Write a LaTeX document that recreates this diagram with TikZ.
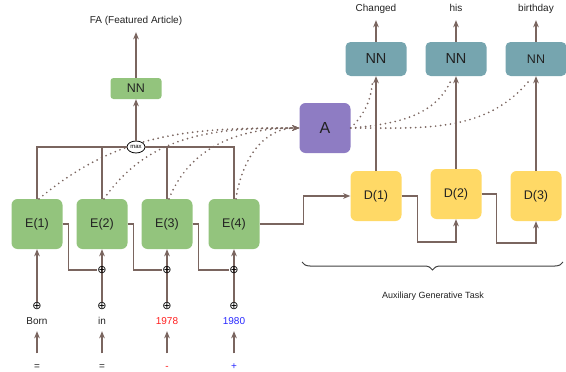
\documentclass[tikz,border=0pt]{standalone}
\usepackage{fontspec}
\setmainfont{Liberation Sans}
\newfontfamily\symfont{DejaVu Sans}
\usepackage{tikz}
\usetikzlibrary{arrows.meta}
\usetikzlibrary{shapes.geometric}
\usetikzlibrary{decorations.pathreplacing}
\usetikzlibrary{positioning}
\definecolor{wirec}{RGB}{122,101,95}
\definecolor{encgreen}{RGB}{147,196,125}
\definecolor{decyellow}{RGB}{255,217,102}
\definecolor{nnteal}{RGB}{118,165,175}
\definecolor{attpurple}{RGB}{142,124,195}
\definecolor{wordred}{RGB}{255,30,30}
\definecolor{wordblue}{RGB}{40,40,255}
\definecolor{txt}{RGB}{34,34,34}
\tikzset{wire/.style={draw=wirec,line width=1.2pt}}
\tikzset{dots/.style={draw=wirec,line width=1.9pt,line cap=round,dash pattern=on 0pt off 5pt}}
\tikzset{enc/.style={rectangle,rounded corners=6pt,fill=encgreen,minimum width=51pt,minimum height=50pt,inner sep=0pt,text=txt,font=\fontsize{12.5}{14}\selectfont}}
\tikzset{dec/.style={enc,fill=decyellow}}
\tikzset{att/.style={enc,fill=attpurple,font=\fontsize{16}{18}\selectfont}}
\tikzset{encnn/.style={rectangle,rounded corners=3pt,fill=encgreen,minimum width=51pt,minimum height=21pt,inner sep=0pt,text=txt,font=\fontsize{12.5}{14}\selectfont}}
\tikzset{decnn/.style={rectangle,rounded corners=5pt,fill=nnteal,minimum width=61pt,minimum height=34pt,inner sep=0pt,text=txt}}
\tikzset{lbl/.style={inner sep=2pt,text height=7pt,text depth=2pt,text=txt,font=\fontsize{10}{12}\selectfont}}
\tikzset{plus/.style={inner sep=0pt,text=black,font=\symfont\fontsize{11}{12}\selectfont}}
\tikzset{maxnode/.style={ellipse,draw=black,fill=white,line width=0.8pt,minimum width=18pt,minimum height=12pt,inner sep=0pt,font=\fontsize{6}{7}\selectfont}}
\tikzset{auxbrace/.style={draw=black!75,line width=1pt,decorate,decoration={brace,mirror,amplitude=8pt}}}

\begin{document}
\begin{tikzpicture}[x=1pt,y=1pt,>={Stealth[length=7pt,width=5.5pt,inset=2pt]}]
\useasboundingbox (0,0) rectangle (566,-372);

% encoder
\foreach \k/\x in {1/37,2/102,3/167,4/234}{
  \node[enc] (E\k) at (\x,-224) {E(\k)};
  \node[plus] (P\k) at (\x,-306) {⊕};
  \draw[wire,->] (P\k) -- (E\k);
}
\foreach \k/\x in {2/102,3/167,4/234}{
  \node[plus] (Q\k) at (\x,-270) {⊕};
}
\foreach \k/\j in {1/2,2/3,3/4}{
  \draw[wire] (E\k.east) -- ++(6,0) |- (Q\j);
}

% inputs
\node[lbl] (W1) at (37,-322) {Born};
\node[lbl] (W2) at (102,-322) {in};
\node[lbl,text=wordred] (W3) at (167,-322) {1978};
\node[lbl,text=wordblue] (W4) at (234,-322) {1980};
\node[lbl] (S1) at (37,-367) {=};
\node[lbl] (S2) at (102,-367) {=};
\node[lbl,text=wordred] (S3) at (167,-367) {-};
\node[lbl,text=wordblue] (S4) at (234,-367) {+};
\foreach \k in {1,...,4}{
  \draw[wire,->,shorten <=7pt,shorten >=2.5pt] (S\k) -- (W\k);
}

% attention
\node[att] (A) at (325,-128) {A};
\foreach \k/\a in {1/40,2/55,3/68,4/82}{
  \draw[dots,->] ([xshift=2pt]E\k.north) to[out=\a,in=180] (A.west);
}

% max pooling + classifier
\node[maxnode] (M) at (136,-147) {max};
\draw[wire] (E1.north) |- (M.west);
\draw[wire] (E4.north) |- (M.east);
\draw[wire] (E2.north) -- (E2.north |- M.center);
\draw[wire] (E3.north) -- (E3.north |- M.center);
\node[encnn] (NN0) at (136,-88.5) {NN};
\node[lbl] (FA) at (136,-21) {FA (Featured Article)};
\draw[wire,->] (M) -- (NN0);
\draw[wire,->,shorten >=4.5pt] (NN0) -- (FA);

% decoder
\foreach \k/\x/\y/\f/\w in {1/376/196/14.5/Changed,2/456/194/14.5/his,3/536/196/12.5/birthday}{
  \node[dec] (D\k) at (\x,-\y) {D(\k)};
  \node[decnn,font=\fontsize{\f}{16}\selectfont] (N\k) at (\x,-59) {NN};
  \node[lbl] (T\k) at (\x,-9) {\w};
  \draw[wire,->] (D\k) -- (N\k);
  \draw[wire,->,shorten >=4.5pt] (N\k) -- (T\k);
}
\foreach \k/\a/\b in {1/45/-95,2/5/-115,3/0/-130}{
  \draw[dots,shorten >=6pt] (A.east) to[out=\a,in=\b] ([xshift=-3pt]N\k.south);
}

\draw[wire,->] (E4.east) -- ++(44,0) |- (D1.west);
\draw[wire,->] (D1.east) -- ++(16,0) -- ++(0,-46) -| (D2.south);
\draw[wire,->] (D2.east) -- ++(15,0) -- ++(0,-49) -| (D3.south);

% auxiliary task
\coordinate (bl) at (302,-262);
\coordinate (br) at (563,-262);
\draw[auxbrace] (bl) -- (br);
\node[lbl,font=\fontsize{9}{11}\selectfont] (aux) at (433,-296) {Auxiliary Generative Task};
\end{tikzpicture}
\end{document}
